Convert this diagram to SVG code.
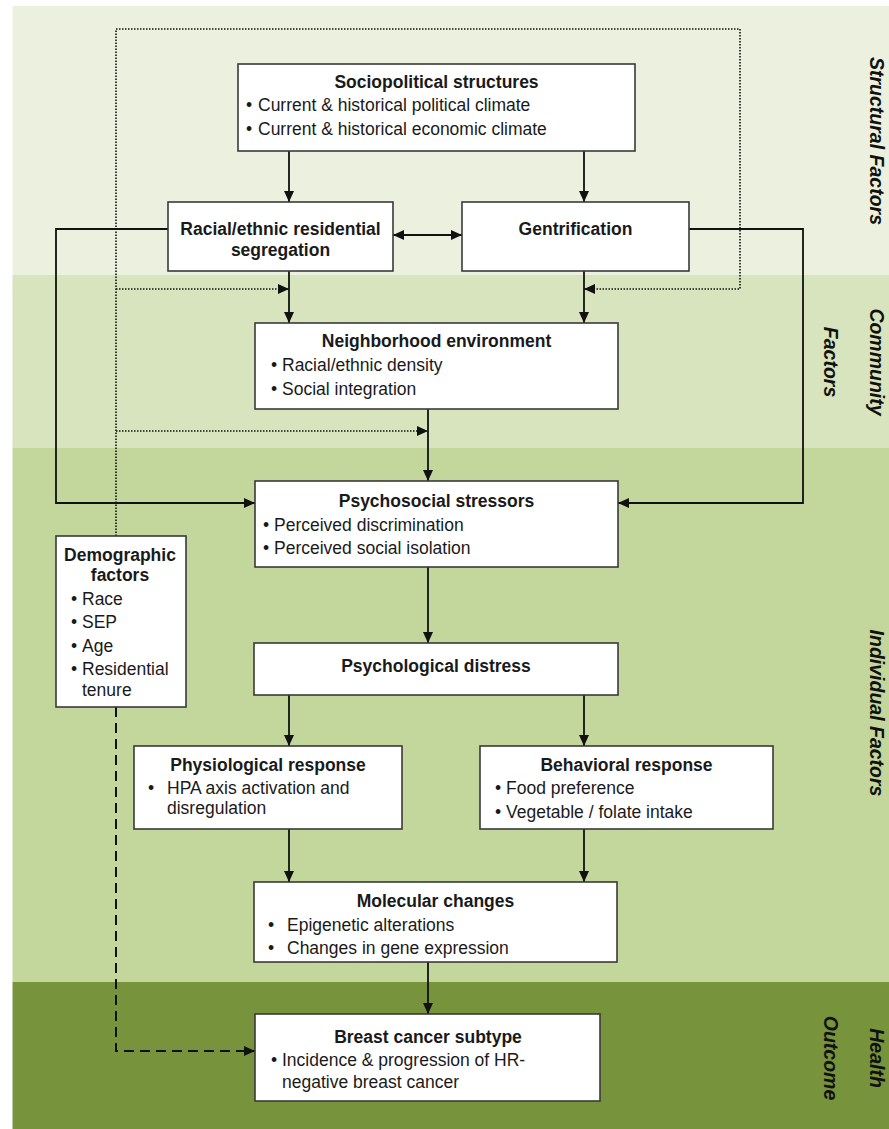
<svg xmlns="http://www.w3.org/2000/svg" width="889" height="1129" viewBox="0 0 889 1129">
<defs>
<style>
.band{stroke:none}
.box{fill:#ffffff;stroke:#3a3a3a;stroke-width:1.6}
.t{font-family:"Liberation Sans",Arial,sans-serif;font-size:17.5px;fill:#1a1a1a}
.b{font-weight:bold;text-anchor:middle}
.side{font-family:"Liberation Sans",Arial,sans-serif;font-size:19.5px;font-weight:bold;font-style:italic;fill:#111;text-anchor:middle}
.solid{fill:none;stroke:#111;stroke-width:1.8}
.dot{fill:none;stroke:#111;stroke-width:1.6;stroke-dasharray:1.5 1.5}
.dash{fill:none;stroke:#111;stroke-width:2;stroke-dasharray:10 6}
</style>
<marker id="ah" markerUnits="userSpaceOnUse" markerWidth="12" markerHeight="10" refX="11" refY="5" orient="auto-start-reverse">
<path d="M0,0 L11,5 L0,10 z" fill="#111"/>
</marker>
</defs>

<g id="background">
<rect x="0" y="0" width="889" height="1129" fill="#ffffff"/>
<rect class="band" x="12.5" y="6" width="876.5" height="269" fill="#ebf1de"/>
<rect class="band" x="12.5" y="275" width="876.5" height="173" fill="#d7e4bd"/>
<rect class="band" x="12.5" y="448" width="876.5" height="534" fill="#c3d69b"/>
<rect class="band" x="12.5" y="982" width="876.5" height="147" fill="#77933c"/>
</g>

<g id="band-labels">
<text class="side" transform="translate(870,141) rotate(90)">Structural Factors</text>
<text class="side" transform="translate(870,362) rotate(90)">Community</text>
<text class="side" transform="translate(824,362) rotate(90)">Factors</text>
<text class="side" transform="translate(870,713) rotate(90)">Individual Factors</text>
<text class="side" transform="translate(870,1058) rotate(90)">Health</text>
<text class="side" transform="translate(824,1058) rotate(90)">Outcome</text>
</g>

<g id="connectors">
<line class="solid" x1="289" y1="151" x2="289" y2="202" marker-end="url(#ah)"/>
<line class="solid" x1="584" y1="151" x2="584" y2="202" marker-end="url(#ah)"/>
<line class="solid" x1="393" y1="235" x2="462" y2="235" marker-start="url(#ah)" marker-end="url(#ah)"/>
<line class="solid" x1="289" y1="271" x2="289" y2="323" marker-end="url(#ah)"/>
<line class="solid" x1="584" y1="271" x2="584" y2="323" marker-end="url(#ah)"/>
<polyline class="solid" points="168,229 56,229 56,503 255,503" marker-end="url(#ah)"/>
<polyline class="solid" points="689,229 803,229 803,503 618,503" marker-end="url(#ah)"/>
<line class="solid" x1="428" y1="409" x2="428" y2="481" marker-end="url(#ah)"/>
<polyline class="dot" points="116,536 116,29 740,29 740,289 584,289" marker-end="url(#ah)"/>
<line class="dot" x1="116" y1="289" x2="289" y2="289" marker-end="url(#ah)"/>
<line class="dot" x1="116" y1="431" x2="428" y2="431" marker-end="url(#ah)"/>
<line class="solid" x1="428" y1="567" x2="428" y2="643" marker-end="url(#ah)"/>
<line class="solid" x1="289" y1="695" x2="289" y2="746" marker-end="url(#ah)"/>
<line class="solid" x1="584" y1="695" x2="584" y2="746" marker-end="url(#ah)"/>
<line class="solid" x1="289" y1="829" x2="289" y2="882" marker-end="url(#ah)"/>
<line class="solid" x1="584" y1="829" x2="584" y2="882" marker-end="url(#ah)"/>
<line class="solid" x1="428" y1="962" x2="428" y2="1014" marker-end="url(#ah)"/>
<polyline class="dash" points="116,707 116,1051 255,1051" marker-end="url(#ah)"/>
</g>

<g id="sociopolitical">
<rect class="box" x="238" y="64" width="397" height="87"/>
<text class="t b" x="436.5" y="88">Sociopolitical structures</text>
<text class="t"><tspan x="246" y="111">•</tspan><tspan x="258" y="111">Current &amp; historical political climate</tspan></text>
<text class="t"><tspan x="246" y="135">•</tspan><tspan x="258" y="135">Current &amp; historical economic climate</tspan></text>
</g>

<g id="segregation">
<rect class="box" x="168" y="202" width="225" height="69"/>
<text class="t b" x="280.5" y="235">Racial/ethnic residential</text>
<text class="t b" x="280.5" y="256">segregation</text>
</g>

<g id="gentrification">
<rect class="box" x="462" y="202" width="227" height="69"/>
<text class="t b" x="575.5" y="235">Gentrification</text>
</g>

<g id="neighborhood">
<rect class="box" x="255" y="323" width="363" height="86"/>
<text class="t b" x="436.5" y="347">Neighborhood environment</text>
<text class="t"><tspan x="271" y="371">•</tspan><tspan x="282" y="371">Racial/ethnic density</tspan></text>
<text class="t"><tspan x="271" y="395">•</tspan><tspan x="282" y="395">Social integration</tspan></text>
</g>

<g id="psychosocial">
<rect class="box" x="255" y="481" width="363" height="86"/>
<text class="t b" x="436.5" y="507">Psychosocial stressors</text>
<text class="t"><tspan x="263" y="531">•</tspan><tspan x="274" y="531">Perceived discrimination</tspan></text>
<text class="t"><tspan x="263" y="554">•</tspan><tspan x="274" y="554">Perceived social isolation</tspan></text>
</g>

<g id="demographic">
<rect class="box" x="56" y="536" width="130" height="171"/>
<text class="t b" x="120" y="561">Demographic</text>
<text class="t b" x="120" y="581">factors</text>
<text class="t"><tspan x="71" y="605">•</tspan><tspan x="82" y="605">Race</tspan></text>
<text class="t"><tspan x="71" y="628">•</tspan><tspan x="82" y="628">SEP</tspan></text>
<text class="t"><tspan x="71" y="652">•</tspan><tspan x="82" y="652">Age</tspan></text>
<text class="t"><tspan x="71" y="675">•</tspan><tspan x="82" y="675">Residential</tspan></text>
<text class="t" x="82" y="696">tenure</text>
</g>

<g id="distress">
<rect class="box" x="254" y="643" width="364" height="52"/>
<text class="t b" x="436" y="672">Psychological distress</text>
</g>

<g id="physiological">
<rect class="box" x="134" y="746" width="268" height="83"/>
<text class="t b" x="268" y="771">Physiological response</text>
<text class="t"><tspan x="148" y="794">•</tspan><tspan x="167" y="794">HPA axis activation and</tspan></text>
<text class="t" x="167" y="814">disregulation</text>
</g>

<g id="behavioral">
<rect class="box" x="480" y="746" width="293" height="83"/>
<text class="t b" x="626.5" y="771">Behavioral response</text>
<text class="t"><tspan x="495" y="794">•</tspan><tspan x="506" y="794">Food preference</tspan></text>
<text class="t"><tspan x="495" y="818">•</tspan><tspan x="506" y="818">Vegetable / folate intake</tspan></text>
</g>

<g id="molecular">
<rect class="box" x="254" y="882" width="363" height="80"/>
<text class="t b" x="435.5" y="907">Molecular changes</text>
<text class="t"><tspan x="268" y="931">•</tspan><tspan x="287" y="931">Epigenetic alterations</tspan></text>
<text class="t"><tspan x="268" y="954">•</tspan><tspan x="287" y="954">Changes in gene expression</tspan></text>
</g>

<g id="breast-cancer">
<rect class="box" x="255" y="1014" width="345" height="87"/>
<text class="t b" x="428" y="1043">Breast cancer subtype</text>
<text class="t"><tspan x="271" y="1066">•</tspan><tspan x="282" y="1066">Incidence &amp; progression of HR-</tspan></text>
<text class="t" x="282" y="1088">negative breast cancer</text>
</g>
</svg>
